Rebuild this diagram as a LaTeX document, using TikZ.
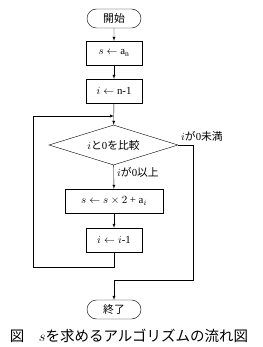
\documentclass[tikz,border=0pt]{standalone}
\usepackage{fontspec}
\setmainfont{Liberation Serif}
\newfontfamily\cjk{Noto Sans CJK JP}
\usetikzlibrary{shapes.geometric,shapes.misc,arrows,positioning}
\tikzstyle{terminal}=[draw,rounded rectangle,minimum width=56pt,minimum height=19pt,inner sep=1pt]
\tikzstyle{process}=[draw,rectangle,minimum width=56pt,minimum height=24pt,inner sep=1pt]
\tikzstyle{decision}=[draw,diamond,aspect=3,minimum width=129pt,minimum height=40pt,inner sep=0pt]
\tikzstyle{note}=[inner sep=0pt,anchor=west]
\begin{document}
\begin{tikzpicture}[x=1pt,y=-1pt,thin,>=latex,font=\fontsize{10.8}{13}\selectfont]
\useasboundingbox (0,0) rectangle (262,347);
\node [terminal] (start) at (114,18.5) {\cjk 開始};
\node [process] (init) at (114,53) {$s\leftarrow$ a$_{\mathrm{n}}$};
\node [process] (setn) at (114,91) {$i\leftarrow$ n-1};
\coordinate (join) at (114,116);
\node [decision] (cmp) at (113.5,145) {$i${\cjk と}0{\cjk を比較}};
\node [process,minimum width=98pt] (acc) at (114,201) {$s\leftarrow s\times2$ + a$_i$};
\node [process] (dec) at (114,240) {$i\leftarrow i$-1};
\node [terminal] (stop) at (114,309.5) {\cjk 終了};
\coordinate (back) at (33,267);
\coordinate (exit) at (193,280);
\node [note] (neg) at (181,136) {$i${\cjk が}0{\cjk 未満}};
\node [note] (pos) at (117,172) {$i${\cjk が}0{\cjk 以上}};
\node (cap) at (129,336) {\fontsize{14.5}{16}\selectfont\cjk 図\quad $s$を求めるアルゴリズムの流れ図};
% connectors
\draw [->] (start) -- (init);
\draw [->] (init) -- (setn);
\draw [->] (setn) -- (cmp);
\draw [->] (cmp) -- (acc);
\draw [->] (acc) -- (dec);
\draw [->] (dec.south) |- (back) |- (join);
\draw [->] (cmp.east) -| (exit) -| (stop.north);
\end{tikzpicture}
\end{document}
